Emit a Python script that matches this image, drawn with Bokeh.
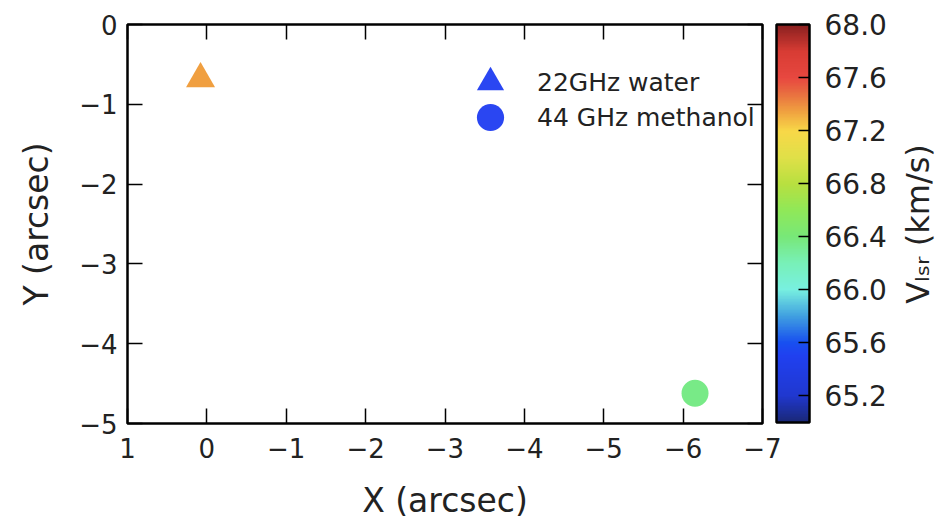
import numpy as np
from bokeh.plotting import figure
from bokeh.layouts import row
from bokeh.models import (ColumnDataSource, Range1d, LinearAxis, FixedTicker, PrintfTickFormatter,
                          LinearColorMapper, ColorBar, Legend, LegendItem, Title)
from bokeh.embed import file_html
from bokeh.resources import INLINE

# ---- data ----
x_ticks = [1, 0, -1, -2, -3, -4, -5, -6, -7]
y_ticks = [0, -1, -2, -3, -4, -5]
cbar_ticks = [65.2, 65.6, 66.0, 66.4, 66.8, 67.2, 67.6, 68.0]
v_low, v_high = 65.0, 68.0

water_x = [0.08]
water_y = [-0.68]
water_v = [67.35]

meth_x = [-6.15]
meth_y = [-4.62]
meth_v = [66.35]

# colour map anchors (velocity -> colour)
cmap_values = [65.0, 65.2, 65.5, 65.6, 65.8, 66.0, 66.2, 66.4, 66.6, 66.8, 67.0, 67.2, 67.35, 67.5, 67.6, 67.8, 68.0]
cmap_colors = ["#1a2878", "#2038d0", "#2040f0", "#1850f0", "#40a0e0", "#78f0e0", "#78f0b8", "#78e878",
               "#90e858", "#b8e040", "#e0e048", "#f8d848", "#f0a040", "#e86840", "#e84840", "#d83c34", "#8a2020"]

FONT = "DejaVu Sans"
TXT = "#222222"

def hex2rgb(h):
    return [int(h[i:i + 2], 16) for i in (1, 3, 5)]

rgb = np.array([hex2rgb(c) for c in cmap_colors], dtype=float)
grid = np.linspace(v_low, v_high, 256)
palette = []
for g in grid:
    r = np.interp(g, cmap_values, rgb[:, 0])
    gg = np.interp(g, cmap_values, rgb[:, 1])
    b = np.interp(g, cmap_values, rgb[:, 2])
    palette.append("#%02x%02x%02x" % (int(round(r)), int(round(gg)), int(round(b))))

mapper = LinearColorMapper(palette=palette, low=v_low, high=v_high)

def minus(v):
    return ("%g" % v).replace("-", "\u2212")

p = figure(frame_width=635, frame_height=399, output_backend="svg", toolbar_location=None,
           x_range=Range1d(x_ticks[0], x_ticks[-1]), y_range=Range1d(y_ticks[-1], y_ticks[0]),
           min_border_left=127, min_border_right=130, min_border_top=24, min_border_bottom=80)
p.grid.visible = False
p.outline_line_color = "black"
p.outline_line_width = 2.5
p.background_fill_color = "white"
p.border_fill_color = "white"

def style_axis(ax, ticks, show_labels=True):
    ax.ticker = FixedTicker(ticks=ticks)
    if show_labels:
        ax.major_label_overrides = {t: minus(t) for t in ticks}
        ax.major_label_text_font_size = "26px"
    else:
        ax.major_label_overrides = {t: "" for t in ticks}
        ax.major_label_text_font_size = "0px"
    ax.axis_line_color = None
    ax.major_tick_in = 15
    ax.major_tick_out = 0
    ax.major_tick_line_width = 1.5
    ax.major_tick_line_color = "black"
    ax.minor_tick_line_color = None
    ax.major_label_text_font = FONT
    ax.major_label_text_color = TXT
    ax.axis_label_text_font = FONT
    ax.axis_label_text_font_size = "33px"
    ax.axis_label_text_font_style = "normal"
    ax.axis_label_text_color = TXT

style_axis(p.xaxis[0], x_ticks)
style_axis(p.yaxis[0], y_ticks)
p.xaxis[0].axis_label = "X (arcsec)"
p.yaxis[0].axis_label = "Y (arcsec)"
p.xaxis[0].major_label_standoff = 14
p.xaxis[0].axis_label_standoff = 20
p.yaxis[0].major_label_standoff = 10
p.yaxis[0].axis_label_standoff = 20

top_ax = LinearAxis()
style_axis(top_ax, x_ticks, show_labels=False)
top_ax.major_label_standoff = 0
p.add_layout(top_ax, "above")

right_ax = LinearAxis()
style_axis(right_ax, y_ticks, show_labels=False)
right_ax.major_label_standoff = 0
p.add_layout(right_ax, "right")

# invisible spacer axis: its outward ticks only reserve the gap before the colour bar
spacer_ax = LinearAxis()
style_axis(spacer_ax, y_ticks, show_labels=False)
spacer_ax.major_tick_in = 0
spacer_ax.major_tick_out = 14
spacer_ax.major_tick_line_color = None
spacer_ax.major_label_standoff = 0
p.add_layout(spacer_ax, "right")

# ---- data markers ----
src_w = ColumnDataSource(dict(x=water_x, y=water_y, v=water_v))
src_m = ColumnDataSource(dict(x=meth_x, y=meth_y, v=meth_v))
p.scatter("x", "y", source=src_w, marker="triangle", size=29,
          fill_color={"field": "v", "transform": mapper}, line_color=None)
p.scatter("x", "y", source=src_m, marker="circle", size=27,
          fill_color={"field": "v", "transform": mapper}, line_color=None)

# ---- legend (placeholder renderers carry the legend's blue symbols) ----
blue = "#2a46f2"
leg_w = p.scatter([np.nan], [np.nan], marker="triangle", size=27, fill_color=blue, line_color=None)
leg_m = p.scatter([np.nan], [np.nan], marker="circle", size=27, fill_color=blue, line_color=None)

def make_legend(label, rend, loc):
    return Legend(items=[LegendItem(label=label, renderers=[rend])],
                  location=loc, glyph_width=68, glyph_height=68,
                  label_standoff=13, padding=0, margin=0, border_line_color=None,
                  background_fill_alpha=0, label_text_font=FONT, label_text_font_size="25px",
                  label_text_color=TXT, label_text_baseline="middle")

p.add_layout(make_legend("22GHz water", leg_w, (329, 307)), "center")
p.add_layout(make_legend("44 GHz methanol", leg_m, (329, 272)), "center")

# ---- colour bar ----
cb = ColorBar(color_mapper=mapper, ticker=FixedTicker(ticks=cbar_ticks),
              formatter=PrintfTickFormatter(format="%.1f"), width=33, height=398,
              padding=0, margin=0, bar_line_color="black", bar_line_width=2.5,
              major_tick_in=11, major_tick_out=0, major_tick_line_color="black", major_tick_line_width=1.5,
              minor_tick_line_color=None, label_standoff=15, major_label_text_font=FONT,
              major_label_text_font_size="28px", major_label_text_color=TXT,
              background_fill_color=None)
p.add_layout(cb, "right")

# ---- colour bar title: a left-side title of a narrow companion figure (reads bottom to top) ----
pt = figure(frame_width=1, frame_height=399, output_backend="svg", toolbar_location=None,
            min_border_left=44, min_border_right=0, min_border_top=24, min_border_bottom=80,
            x_axis_location=None, y_axis_location=None)
pt.outline_line_color = None
pt.grid.visible = False
pt.border_fill_color = "white"
pt.background_fill_color = "white"
pt.add_layout(Title(text="V\u2097\u209b\u1d63 (km/s)", align="center", text_font=FONT,
                    text_font_size="32px", text_font_style="normal", text_color=TXT,
                    standoff=0, offset=0), "left")

layout = row(p, pt, spacing=0)
open("out.html", "w").write(file_html(layout, INLINE))
